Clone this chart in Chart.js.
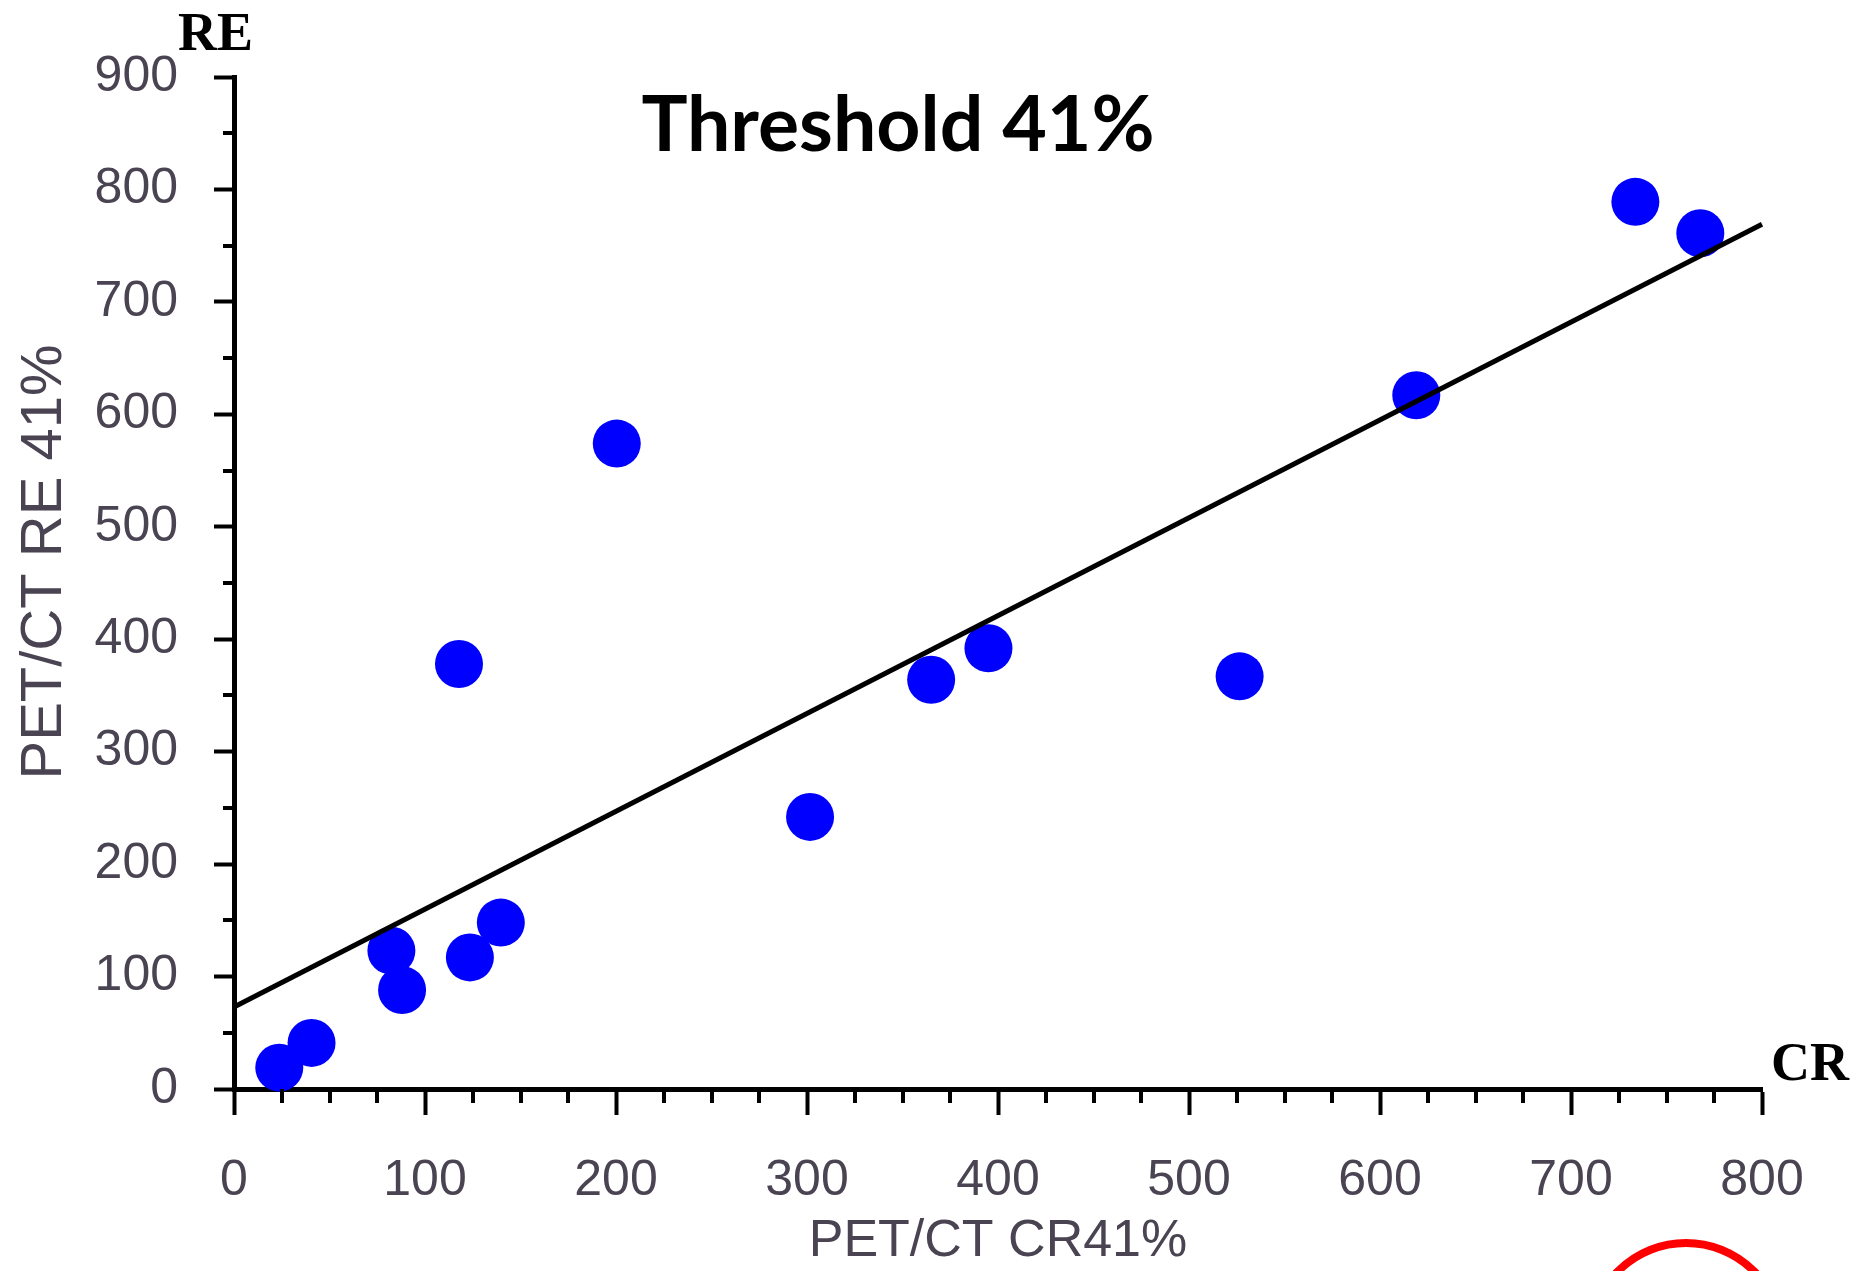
<!DOCTYPE html>
<html><head><meta charset="utf-8">
<script src="https://cdn.jsdelivr.net/npm/chart.js@4.4.0/dist/chart.umd.min.js"></script>
<style>html,body{margin:0;padding:0;background:#fff;}#wrap{width:1865px;height:1271px;position:relative;}</style>
</head><body><div id="wrap"><canvas id="c"></canvas></div>
<script>
// ---- data ----
const crValues = [23.7, 40.6, 82.4, 88, 117.8, 123.5, 139.7, 200.4, 301.6, 365, 395, 526.5, 619, 733.7, 767.7];
const reValues = [19, 41, 123, 88, 378, 117, 148, 574, 242, 364, 392, 367, 617, 789, 761];
const fitX = [0, 800];
const fitY = [73, 769];
const xTickValues = [0, 100, 200, 300, 400, 500, 600, 700, 800];
const yTickValues = [0, 100, 200, 300, 400, 500, 600, 700, 800, 900];
const chartTitle = 'Threshold 41%';
const xAxisTitle = 'PET/CT CR41%';
const yAxisTitle = 'PET/CT RE 41%';
const xEndLabel = 'CR';
const yEndLabel = 'RE';

const labelColor = '#4a4352';
const pointData = crValues.map((x, i) => ({x: x, y: reValues[i]}));
const fitData = fitX.map((x, i) => ({x: x, y: fitY[i]}));

const extras = {
  id: 'extras',
  afterDraw(chart) {
    const ctx = chart.ctx;
    const xs = chart.scales.x, ys = chart.scales.y;
    const x0 = xs.getPixelForValue(0), y0 = ys.getPixelForValue(0);
    ctx.save();
    // minor ticks
    ctx.strokeStyle = '#000';
    ctx.lineWidth = 4;
    for (let v = 25; v < 800; v += 25) {
      if (v % 100 === 0) continue;
      const px = Math.round(xs.getPixelForValue(v));
      ctx.beginPath(); ctx.moveTo(px, y0); ctx.lineTo(px, y0 + 14); ctx.stroke();
    }
    for (let v = 50; v < 900; v += 100) {
      const py = Math.round(ys.getPixelForValue(v));
      ctx.beginPath(); ctx.moveTo(x0 - 11, py); ctx.lineTo(x0, py); ctx.stroke();
    }
    // y axis title (vertical)
    ctx.save();
    ctx.translate(45, 562);
    ctx.rotate(-Math.PI / 2);
    ctx.fillStyle = labelColor;
    ctx.font = '58px "Liberation Sans", Arial, sans-serif';
    ctx.textAlign = 'center';
    ctx.textBaseline = 'middle';
    ctx.fillText(yAxisTitle, 0, 0);
    ctx.restore();
    // title inside plot
    ctx.fillStyle = '#000';
    ctx.font = 'bold 77px Lato, "Open Sans", sans-serif';
    ctx.textAlign = 'center';
    ctx.textBaseline = 'alphabetic';
    ctx.fillText(chartTitle, 898, 151);
    // axis end labels
    ctx.font = 'bold 54px "Liberation Serif", "Times New Roman", serif';
    ctx.textAlign = 'left';
    ctx.fillText(yEndLabel, 178, 50);
    ctx.fillText(xEndLabel, 1771, 1080);
    // red circle mark
    ctx.strokeStyle = '#ff0000';
    ctx.lineWidth = 8;
    ctx.beginPath(); ctx.arc(1686, 1339, 96, 0, Math.PI * 2); ctx.stroke();
    ctx.restore();
  }
};

new Chart(document.getElementById('c'), {
  type: 'scatter',
  data: {
    datasets: [
      {
        type: 'line', label: 'fit', data: fitData, borderColor: '#000', borderWidth: 5,
        pointRadius: 0, fill: false, order: 0, clip: false
      },
      {
        label: 'RE vs CR', data: pointData, backgroundColor: '#0000ff', borderWidth: 0,
        pointRadius: 24, pointHoverRadius: 24, pointStyle: 'circle', order: 1, clip: false
      }
    ]
  },
  options: {
    responsive: true, maintainAspectRatio: false, animation: false, devicePixelRatio: 1,
    layout: {padding: {top: 77, right: 103, left: 0, bottom: 0}},
    plugins: {legend: {display: false}, tooltip: {enabled: false}, title: {display: false}},
    scales: {
      x: {
        type: 'linear', min: 0, max: 800,
        afterFit(s) { s.height = 182; },
        afterBuildTicks(s) { s.ticks = []; for (let v = 0; v <= 800; v += 100) s.ticks.push({value: v}); },
        ticks: {
          autoSkip: false, maxRotation: 0, padding: 36, color: labelColor,
          font: {family: '"Liberation Sans", Arial, sans-serif', size: 50},
          callback: v => xTickValues.includes(v) ? String(v) : ''
        },
        grid: {drawOnChartArea: false, drawTicks: true, tickLength: 26, tickWidth: 4, tickColor: '#000'},
        border: {display: true, color: '#000', width: 5},
        title: {display: true, text: xAxisTitle, color: labelColor,
          font: {family: '"Liberation Sans", Arial, sans-serif', size: 52, lineHeight: 1},
          padding: {top: 0, bottom: 3}}
      },
      y: {
        type: 'linear', min: 0, max: 900,
        afterFit(s) { s.width = 234; },
        afterBuildTicks(s) { s.ticks = []; for (let v = 0; v <= 900; v += 100) s.ticks.push({value: v}); },
        ticks: {
          autoSkip: false, padding: 36, color: labelColor,
          font: {family: '"Liberation Sans", Arial, sans-serif', size: 50},
          callback: v => yTickValues.includes(v) ? String(v) : ''
        },
        grid: {drawOnChartArea: false, drawTicks: true, tickLength: 20, tickWidth: 4, tickColor: '#000'},
        border: {display: true, color: '#000', width: 5},
        title: {display: false, text: yAxisTitle}
      }
    }
  },
  plugins: [extras]
});
</script>
</body></html>
